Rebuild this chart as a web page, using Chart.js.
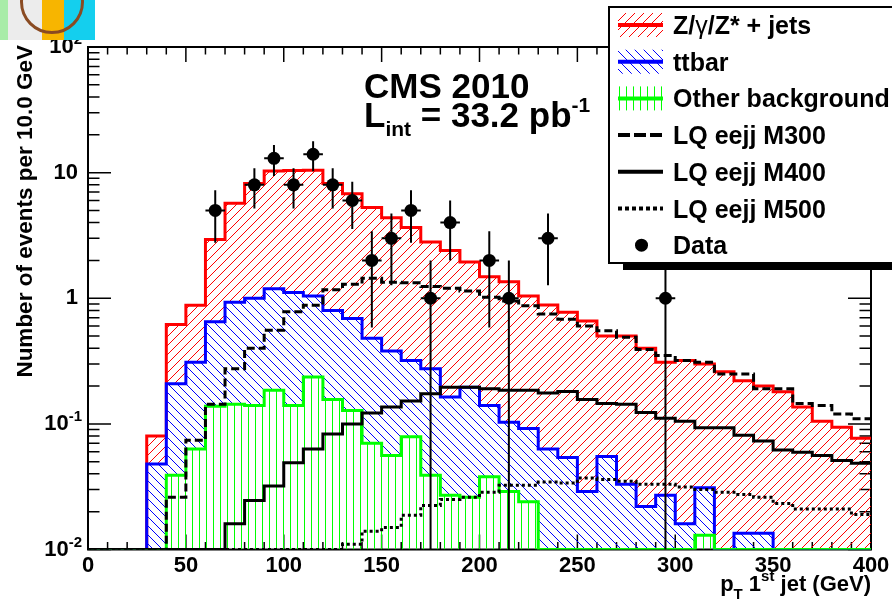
<!DOCTYPE html>
<html>
<head>
<meta charset="utf-8">
<title>pT 1st jet</title>
<script src="https://cdn.jsdelivr.net/npm/chart.js@4.4.1/dist/chart.umd.min.js"></script>
<style>
  html, body { margin: 0; padding: 0; background: #fff; }
  #wrap { position: relative; width: 892px; height: 610px; overflow: hidden; }
  #plot { position: absolute; left: 0; top: 0; }
  #logo {
    position: absolute; left: 0; top: 0; width: 95px; height: 40px; overflow: hidden;
    background: linear-gradient(90deg, #a8eca8 0 8px, #ececec 8px 42px, #f7b500 42px 64px, #14cfee 64px 95px);
  }
  #logo span {
    position: absolute; left: 20px; top: -30px; width: 58px; height: 58px;
    border: 3px solid #8a4b22; border-radius: 50%;
  }
</style>
</head>
<body>
<div id="wrap">
  <canvas id="plot" width="892" height="610"></canvas>
  <div id="logo"><span></span></div>
</div>
<script>
// 10 GeV bins from 0 to 400 GeV
const binEdges = [0, 10, 20, 30, 40, 50, 60, 70, 80, 90, 100, 110, 120, 130, 140, 150, 160, 170, 180, 190,
  200, 210, 220, 230, 240, 250, 260, 270, 280, 290, 300, 310, 320, 330, 340, 350, 360, 370, 380, 390, 400];

// background expectations per bin (events / 10 GeV)
const zjets = [0, 0, 0, 0.032, 0.41, 0.57, 2.29, 4.77, 7.2, 9.1,
  9.3, 9.4, 7.4, 6.1, 4.8, 4.0, 3.33, 2.53, 2.24, 1.75,
  1.34, 1.25, 0.95, 0.82, 0.72, 0.63, 0.445, 0.467, 0.378, 0.283,
  0.304, 0.269, 0.26, 0.207, 0.187, 0.18, 0.136, 0.105, 0.094, 0.077];
const ttbar = [0, 0, 0, 0.048, 0.17, 0.247, 0.512, 0.787, 0.86, 1.005,
  0.97, 0.804, 0.644, 0.562, 0.41, 0.324, 0.241, 0.236, 0.137, 0.17,
  0.102, 0.074, 0.068, 0.063, 0.054, 0.029, 0.055, 0.033, 0.022, 0.027,
  0.016, 0.018, 0, 0.0135, 0.0135, 0, 0, 0, 0, 0];
const otherBkg = [0, 0, 0, 0, 0.039, 0.063, 0.138, 0.143, 0.14, 0.185,
  0.14, 0.236, 0.156, 0.128, 0.07, 0.056, 0.079, 0.039, 0.027, 0.026,
  0.038, 0.029, 0.024, 0, 0, 0, 0, 0, 0, 0,
  0, 0.013, 0, 0, 0, 0, 0, 0, 0, 0];

// leptoquark signal hypotheses
const lqM300 = [0, 0, 0, 0, 0.026, 0.074, 0.143, 0.275, 0.40, 0.556,
  0.78, 0.88, 1.17, 1.29, 1.44, 1.34, 1.33, 1.24, 1.2, 1.14,
  1.02, 0.95, 0.87, 0.75, 0.68, 0.60, 0.55, 0.49, 0.39, 0.35,
  0.32, 0.31, 0.25, 0.25, 0.19, 0.19, 0.145, 0.14, 0.12, 0.11];
const lqM400 = [0, 0, 0, 0, 0, 0, 0, 0.016, 0.0245, 0.032,
  0.049, 0.063, 0.083, 0.10, 0.122, 0.136, 0.152, 0.174, 0.196, 0.196,
  0.19, 0.185, 0.185, 0.176, 0.181, 0.156, 0.145, 0.143, 0.123, 0.111,
  0.105, 0.093, 0.093, 0.081, 0.073, 0.062, 0.0595, 0.056, 0.051, 0.0487];
const lqM500 = [0, 0, 0, 0, 0, 0, 0, 0, 0, 0,
  0, 0, 0, 0.011, 0.014, 0.015, 0.0187, 0.0224, 0.025, 0.026,
  0.0286, 0.0324, 0.0324, 0.0344, 0.0338, 0.037, 0.036, 0.035, 0.033, 0.033,
  0.0314, 0.030, 0.0286, 0.0274, 0.026, 0.0232, 0.021, 0.021, 0.021, 0.019];

// observed events (bin centre, count)
const dataCenters = [65, 85, 95, 105, 115, 125, 135, 145, 155, 165, 175, 185, 205, 215, 235, 295];
const dataCounts = [5, 8, 13, 8, 14, 8, 6, 2, 3, 5, 1, 4, 2, 1, 3, 1];

// axis ticks
const xTicks = [0, 50, 100, 150, 200, 250, 300, 350, 400];
const xMinorStep = 10;
const yTicks = [100, 10, 1, 0.1, 0.01];
const yTickLabels = [['10', '2'], ['10', ''], ['1', ''], ['10', '-1'], ['10', '-2']];

const YMIN = 0.01, YMAX = 100;
const BIN_HALF = 5;
const FONT = '"Liberation Sans", Arial, Helvetica, sans-serif';

// stacked totals, drawn as in THStack
const stackOther = otherBkg.slice();
const stackTtbar = ttbar.map((v, i) => v + otherBkg[i]);
const stackZjets = zjets.map((v, i) => v + stackTtbar[i]);

// histogram outline: one point per low edge plus the last high edge,
// empty bins sit on the bottom of the log axis
function stepPoints(vals) {
  const pts = vals.map((v, i) => ({ x: binEdges[i], y: v > 0 ? v : YMIN }));
  pts.push({ x: binEdges[vals.length], y: pts[pts.length - 1].y });
  return pts;
}

const canvas = document.getElementById('plot');
const ctx = canvas.getContext('2d');

function hatch(color, kind, size) {
  const c = document.createElement('canvas');
  c.width = size; c.height = size;
  const g = c.getContext('2d');
  g.strokeStyle = color;
  g.lineWidth = 1;
  g.beginPath();
  if (kind === '/') {
    g.moveTo(0, size); g.lineTo(size, 0);
    g.moveTo(-2, 2); g.lineTo(2, -2);
    g.moveTo(size - 2, size + 2); g.lineTo(size + 2, size - 2);
  } else if (kind === '\\') {
    g.moveTo(0, 0); g.lineTo(size, size);
    g.moveTo(size - 2, -2); g.lineTo(size + 2, 2);
    g.moveTo(-2, size - 2); g.lineTo(2, size + 2);
  } else {
    g.moveTo(size / 2, 0); g.lineTo(size / 2, size);
  }
  g.stroke();
  return ctx.createPattern(c, 'repeat');
}

const RED = '#ff0000', BLUE = '#0000ff', GREEN = '#00ff00';
const redHatch = hatch(RED, '/', 9);
const blueHatch = hatch(BLUE, '\\', 9);
const greenHatch = hatch(GREEN, '|', 7);

function richText(c, parts, x, y, align) {
  let w = 0;
  parts.forEach(p => {
    c.font = `${p.weight || 'bold'} ${p.size}px ${FONT}`;
    p.w = c.measureText(p.t).width;
    w += p.w;
  });
  let cx = align === 'right' ? x - w : align === 'center' ? x - w / 2 : x;
  c.textAlign = 'left';
  parts.forEach(p => {
    c.font = `${p.weight || 'bold'} ${p.size}px ${FONT}`;
    c.fillText(p.t, cx, y + (p.dy || 0));
    cx += p.w;
  });
}

const rootStyle = {
  id: 'rootStyle',
  beforeDatasetsDraw(chart) {
    const { ctx: c, chartArea: a, scales: { x, y } } = chart;
    c.save();
    c.strokeStyle = '#000';
    c.lineWidth = 2;
    c.strokeRect(a.left, a.top, a.right - a.left, a.bottom - a.top);
    c.lineWidth = 1.5;
    c.beginPath();
    for (let v = x.min; v <= x.max; v += xMinorStep) {
      const px = x.getPixelForValue(v);
      const len = xTicks.includes(v) ? 15 : 7.5;
      c.moveTo(px, a.bottom); c.lineTo(px, a.bottom - len);
      c.moveTo(px, a.top); c.lineTo(px, a.top + len);
    }
    for (let d = YMIN; d < YMAX; d *= 10) {
      for (let m = 1; m <= 9; m++) {
        const py = y.getPixelForValue(d * m);
        const len = m === 1 ? 23 : 11.5;
        c.moveTo(a.left, py); c.lineTo(a.left + len, py);
        c.moveTo(a.right, py); c.lineTo(a.right - len, py);
      }
    }
    c.stroke();
    c.restore();
  },
  afterDatasetsDraw(chart) {
    const { ctx: c, chartArea: a, scales: { x, y } } = chart;
    c.save();
    c.beginPath();
    c.rect(a.left, a.top, a.right - a.left, a.bottom - a.top);
    c.clip();
    c.strokeStyle = '#000';
    c.lineWidth = 2;
    c.beginPath();
    dataCenters.forEach((xc, i) => {
      const n = dataCounts[i];
      const err = Math.sqrt(n);
      const px = x.getPixelForValue(xc);
      const py = y.getPixelForValue(n);
      const yHi = y.getPixelForValue(n + err);
      const yLo = n - err > 0 ? y.getPixelForValue(n - err) : a.bottom;
      c.moveTo(px, yHi); c.lineTo(px, yLo);
      c.moveTo(x.getPixelForValue(xc - BIN_HALF), py);
      c.lineTo(x.getPixelForValue(xc + BIN_HALF), py);
    });
    c.stroke();
    c.restore();
  },
  afterDraw(chart) {
    const { ctx: c, chartArea: a, scales: { x, y } } = chart;
    c.save();
    c.fillStyle = '#000';
    c.textBaseline = 'alphabetic';

    // x tick labels
    c.font = `bold 22px ${FONT}`;
    c.textAlign = 'center';
    xTicks.forEach(v => c.fillText(String(v), x.getPixelForValue(v), a.bottom + 22));

    // y tick labels with exponents
    yTicks.forEach((v, i) => {
      const [base, exp] = yTickLabels[i];
      const py = y.getPixelForValue(v) + 6;
      if (exp) {
        richText(c, [{ t: base, size: 22 }, { t: exp, size: 15, dy: -9 }], a.left - 6, py, 'right');
      } else {
        richText(c, [{ t: base, size: 22 }], a.left - 10, py, 'right');
      }
    });

    // axis titles
    richText(c, [
      { t: 'p', size: 22 }, { t: 'T', size: 15, dy: 8 }, { t: ' 1', size: 22 },
      { t: 'st', size: 15, dy: -10 }, { t: ' jet (GeV)', size: 22 }
    ], a.right, 591, 'right');
    c.save();
    c.translate(32, 45);
    c.rotate(-Math.PI / 2);
    c.font = `bold 22.5px ${FONT}`;
    c.textAlign = 'right';
    c.fillText('Number of events per 10.0 GeV', 0, 0);
    c.restore();

    // experiment label
    richText(c, [{ t: 'CMS 2010', size: 35 }], 364, 98, 'left');
    richText(c, [
      { t: 'L', size: 35 }, { t: 'int', size: 21, dy: 9 }, { t: ' = 33.2 pb', size: 35 },
      { t: '-1', size: 21, dy: -15 }
    ], 364, 127, 'left');

    drawLegend(c);
    c.restore();
  }
};

function drawLegend(c) {
  const L = 609, T = 7, B = 263;
  c.save();
  c.fillStyle = '#000';
  c.fillRect(623, B, 892 - 623, 7);
  c.fillStyle = '#fff';
  c.fillRect(L, T, 892 - L + 10, B - T);
  c.strokeStyle = '#000';
  c.lineWidth = 2;
  c.strokeRect(L, T, 892 - L + 10, B - T);

  const sx0 = 618, sx1 = 663, tx = 673;
  const rows = [
    { kind: 'fill', pat: redHatch, col: RED, label: [{ t: 'Z/', size: 25 }, { t: 'γ', size: 25, weight: 'normal' }, { t: '/Z* + jets', size: 25 }] },
    { kind: 'fill', pat: blueHatch, col: BLUE, label: [{ t: 'ttbar', size: 25 }] },
    { kind: 'fill', pat: greenHatch, col: GREEN, label: [{ t: 'Other background', size: 25 }] },
    { kind: 'line', dash: [12, 4], label: [{ t: 'LQ eejj M300', size: 25 }] },
    { kind: 'line', dash: [], label: [{ t: 'LQ eejj M400', size: 25 }] },
    { kind: 'line', dash: [4, 3], label: [{ t: 'LQ eejj M500', size: 25 }] },
    { kind: 'marker', label: [{ t: 'Data', size: 25 }] }
  ];
  rows.forEach((r, i) => {
    const cy = 25 + i * 36.7;
    if (r.kind === 'fill') {
      c.fillStyle = r.pat;
      c.fillRect(sx0, cy - 12, sx1 - sx0, 24);
      c.strokeStyle = r.col;
      c.lineWidth = 4;
      c.setLineDash([]);
      c.beginPath(); c.moveTo(sx0, cy); c.lineTo(sx1, cy); c.stroke();
    } else if (r.kind === 'line') {
      c.strokeStyle = '#000';
      c.lineWidth = 4;
      c.setLineDash(r.dash);
      c.beginPath(); c.moveTo(sx0, cy); c.lineTo(sx1, cy); c.stroke();
      c.setLineDash([]);
    } else {
      c.fillStyle = '#000';
      c.beginPath(); c.arc(641.5, cy, 6.5, 0, Math.PI * 2); c.fill();
    }
    c.fillStyle = '#000';
    richText(c, r.label, tx, cy + 9, 'left');
  });
  c.restore();
}

function histDataset(label, vals, color, extra) {
  return Object.assign({
    type: 'line',
    label,
    data: stepPoints(vals),
    borderColor: color,
    borderWidth: 3,
    stepped: true,
    pointRadius: 0,
    fill: false,
    tension: 0
  }, extra);
}

new Chart(ctx, {
  type: 'line',
  data: {
    datasets: [
      {
        type: 'line',
        label: 'Data',
        data: dataCenters.map((xc, i) => ({ x: xc, y: dataCounts[i] })),
        showLine: false,
        pointRadius: 6.5,
        pointHoverRadius: 6.5,
        pointBackgroundColor: '#000',
        pointBorderColor: '#000',
        pointBorderWidth: 0
      },
      histDataset('LQ eejj M500', lqM500, '#000', { borderDash: [3, 3] }),
      histDataset('LQ eejj M400', lqM400, '#000', {}),
      histDataset('LQ eejj M300', lqM300, '#000', { borderDash: [8, 4] }),
      histDataset('Other background', stackOther, GREEN, { fill: 'start', backgroundColor: greenHatch }),
      histDataset('ttbar', stackTtbar, BLUE, { fill: 4, backgroundColor: blueHatch }),
      histDataset('Z/γ/Z* + jets', stackZjets, RED, { fill: 5, backgroundColor: redHatch })
    ]
  },
  options: {
    responsive: false,
    devicePixelRatio: 1,
    animation: false,
    events: [],
    layout: { padding: { left: 88, right: 21, top: 47, bottom: 60.5 } },
    scales: {
      x: { type: 'linear', min: 0, max: 400, display: false },
      y: { type: 'logarithmic', min: YMIN, max: YMAX, display: false }
    },
    plugins: {
      legend: { display: false },
      tooltip: { enabled: false }
    }
  },
  plugins: [rootStyle]
});
</script>
</body>
</html>
